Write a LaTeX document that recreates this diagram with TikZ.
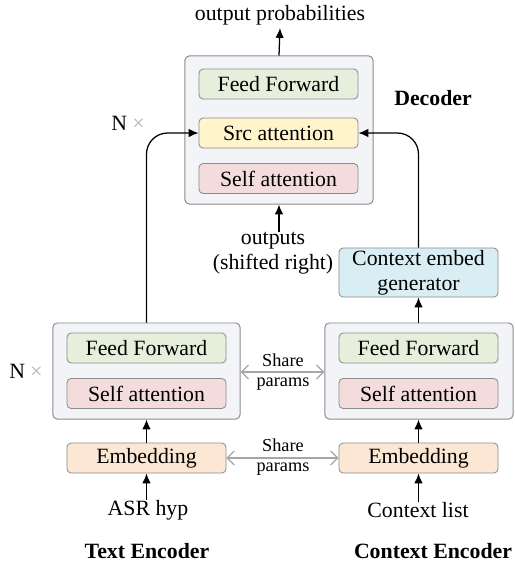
\documentclass[tikz,border=0pt]{standalone}
\usepackage{fontspec}
\setmainfont{LiberationSerif}[Extension=.ttf, UprightFont=*-Regular, BoldFont=*-Bold, ItalicFont=*-Italic, BoldItalicFont=*-BoldItalic]
\usetikzlibrary{arrows.meta,positioning}
\definecolor{outerfill}{HTML}{F2F4F7}
\definecolor{boxline}{HTML}{8C8C8C}
\definecolor{ffgreen}{HTML}{E6EFDB}
\definecolor{srcyellow}{HTML}{FFF4CC}
\definecolor{selfpink}{HTML}{F4DCDC}
\definecolor{embpeach}{HTML}{FCE6D4}
\definecolor{genblue}{HTML}{D9EEF4}
\tikzset{
    outer/.style={draw=boxline, fill=outerfill, rounded corners=3pt, line width=0.7pt, minimum width=4.7cm},
    inner/.style={draw=boxline, rounded corners=3pt, line width=0.6pt, minimum width=3.975cm, minimum height=0.75cm, inner sep=0pt},
    conn/.style={-{Latex[length=7pt,width=6pt]}, line width=0.9pt},
    share/.style={{Straight Barb[length=5pt,width=10pt]}-{Straight Barb[length=5pt,width=10pt]}, draw=gray!70, line width=0.9pt},
    lbl/.style={font=\fontsize{15.5}{18}\selectfont, inner sep=0pt},
    small/.style={font=\fontsize{13}{14.5}\selectfont, align=center, inner sep=0pt},
    title/.style={font=\fontsize{15.5}{18}\selectfont\bfseries, inner sep=0pt}
}
\begin{document}
\begin{tikzpicture}[x=0.025cm, y=-0.025cm]
    \useasboundingbox (0,0) rectangle (515,562);
    % outer boxes
    \node[outer, minimum height=3.7cm] (dec) at (279,130) {};
    \node[outer, minimum width=4.675cm, minimum height=2.4cm] (tenc) at (146.5,371) {};
    \node[outer, minimum height=2.4cm] (cenc) at (419,371) {};
    % decoder layers
    \node[inner, fill=ffgreen, lbl] (dff) at (278.5,84) {Feed Forward};
    \node[inner, fill=srcyellow, lbl] (dsrc) at (278.5,133) {Src attention};
    \node[inner, fill=selfpink, lbl] (dself) at (278.5,178.5) {Self attention};
    % text encoder
    \node[inner, fill=ffgreen, lbl] (tff) at (146.5,348) {Feed Forward};
    \node[inner, fill=selfpink, lbl] (tself) at (146.5,393.5) {Self attention};
    \node[inner, fill=embpeach, lbl] (temb) at (146.5,458) {Embedding};
    % context encoder
    \node[inner, fill=ffgreen, lbl] (cff) at (418.5,348) {Feed Forward};
    \node[inner, fill=selfpink, lbl] (cself) at (418.5,393.5) {Self attention};
    \node[inner, fill=embpeach, lbl] (cemb) at (418.5,458) {Embedding};
    \node[inner, fill=genblue, lbl, minimum height=1.225cm, align=center] (gen) at (418.5,272.5) {Context embed\\generator};
    % texts
    \node[lbl] (outprob) at (280,15) {output probabilities};
    \coordinate (outtip) at (280,28);
    \node[lbl, align=center] (outs) at (273,253) {outputs\\(shifted right)};
    \node[title] (dectitle) at (433,98) {Decoder};
    \node[lbl] (ndec) at (128,123) {N \textcolor{gray!60}{×}};
    \node[lbl] (nenc) at (26,371) {N \textcolor{gray!60}{×}};
    \node[lbl] (asr) at (148,510) {ASR hyp};
    \node[lbl] (clist) at (418,510) {Context list};
    \node[title] (ttitle) at (147,551) {Text Encoder};
    \node[title] (ctitle) at (433,551) {Context Encoder};
    \node[small] (share1) at (283,372) {Share\\params};
    \node[small] (share2) at (283,457) {Share\\params};
    % connectors
    \draw[conn] (dec.north) -- (outtip);
    \draw[conn] (outs.north -| dec.south) -- (dec.south);
    \draw[conn, rounded corners=15pt] (tenc.north) |- (dsrc.west);
    \draw[conn, rounded corners=15pt] (gen.north) |- (dsrc.east);
    \draw[conn] (cenc.north -| gen.south) -- (gen.south);
    \draw[conn] (temb) -- (tenc.south -| temb.north);
    \draw[conn] (cemb) -- (cenc.south -| cemb.north);
    \draw[conn] (asr.north -| temb.south) -- (temb.south);
    \draw[conn] (clist.north -| cemb.south) -- (cemb.south);
    \draw[share] (tenc.east |- share1) -- (cenc.west |- share1);
    \draw[share] (temb.east) -- (cemb.west);
\end{tikzpicture}
\end{document}
